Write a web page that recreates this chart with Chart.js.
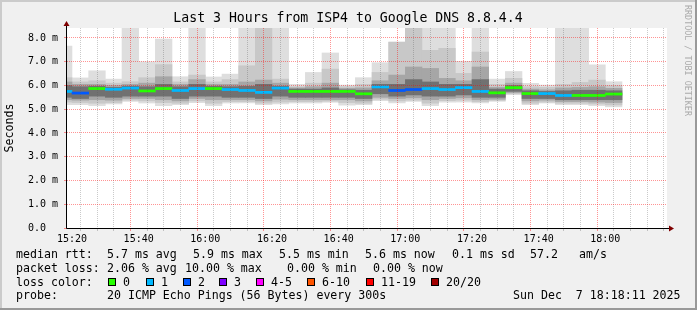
<!DOCTYPE html>
<html>
<head>
<meta charset="utf-8">
<script src="https://cdn.jsdelivr.net/npm/chart.js@4.4.1/dist/chart.umd.min.js"></script>
<style>
  html, body { margin: 0; padding: 0; background: #f0f0f0; }
  #wrap { width: 697px; height: 310px; }
</style>
</head>
<body>
<div id="wrap"><canvas id="smoke" width="697" height="310"></canvas></div>
<script>
(function() {
  'use strict';

  // 5 minute slots (start time), first one is clipped by the left edge
  var SLOTS = ['15:15', '15:20', '15:25', '15:30', '15:35', '15:40', '15:45', '15:50', '15:55',
    '16:00', '16:05', '16:10', '16:15', '16:20', '16:25', '16:30', '16:35', '16:40', '16:45', '16:50', '16:55',
    '17:00', '17:05', '17:10', '17:15', '17:20', '17:25', '17:30', '17:35', '17:40', '17:45', '17:50', '17:55', '18:00'];

  // rtt in ms: smoke bands from outside (light) to inside (dark)
  var MAX_RTT = [7.66, 6.32, 6.62, 6.27, 8.5, 7.00, 7.95, 6.37, 8.5, 6.36, 6.48, 8.5, 8.5, 8.5, 6.05, 6.55, 7.37, 6.02, 6.33, 6.96, 7.84, 8.5, 8.5, 8.5, 7.02, 8.5, 6.27, 6.59, 6.09, 6.02, 8.5, 8.5, 6.87, 6.16];
  var HI2 = [6.33, 6.15, 6.20, 6.10, 6.16, 6.33, 6.88, 6.15, 6.44, 6.15, 6.25, 6.83, 8.5, 6.27, 5.95, 6.10, 6.69, 5.95, 6.05, 6.55, 7.82, 8.5, 7.48, 7.57, 6.51, 7.41, 6.05, 6.30, 5.95, 5.92, 6.05, 6.13, 6.23, 6.00];
  var HI3 = [6.15, 6.05, 6.05, 6.00, 6.05, 6.10, 6.37, 6.05, 6.25, 6.05, 6.05, 6.15, 6.23, 6.10, 5.90, 5.95, 6.10, 5.88, 5.90, 6.20, 6.44, 6.78, 6.72, 6.30, 6.20, 6.78, 5.92, 6.10, 5.85, 5.82, 5.90, 5.92, 5.95, 5.88];
  var HI4 = [6.00, 5.95, 5.97, 5.92, 5.97, 5.95, 6.05, 5.95, 6.05, 5.97, 5.95, 5.97, 6.05, 5.97, 5.85, 5.85, 5.90, 5.82, 5.80, 6.05, 6.05, 6.25, 6.15, 6.05, 6.05, 6.25, 5.85, 6.00, 5.78, 5.75, 5.78, 5.80, 5.80, 5.78];
  var MEDIAN = [5.75, 5.68, 5.87, 5.84, 5.89, 5.77, 5.87, 5.79, 5.87, 5.87, 5.83, 5.79, 5.71, 5.89, 5.75, 5.75, 5.75, 5.75, 5.65, 5.94, 5.79, 5.83, 5.87, 5.83, 5.91, 5.75, 5.69, 5.91, 5.66, 5.66, 5.58, 5.58, 5.58, 5.64];
  var LO4 = [5.50, 5.45, 5.55, 5.50, 5.55, 5.55, 5.55, 5.45, 5.55, 5.55, 5.50, 5.50, 5.45, 5.55, 5.50, 5.50, 5.50, 5.50, 5.45, 5.65, 5.55, 5.60, 5.55, 5.55, 5.60, 5.50, 5.50, 5.75, 5.45, 5.45, 5.40, 5.40, 5.40, 5.40];
  var LO3 = [5.40, 5.38, 5.40, 5.38, 5.45, 5.45, 5.40, 5.35, 5.45, 5.40, 5.40, 5.40, 5.35, 5.42, 5.40, 5.40, 5.40, 5.40, 5.35, 5.50, 5.45, 5.48, 5.40, 5.45, 5.48, 5.40, 5.42, 5.70, 5.35, 5.38, 5.32, 5.32, 5.30, 5.28];
  var LO2 = [5.30, 5.28, 5.25, 5.28, 5.38, 5.35, 5.28, 5.25, 5.35, 5.25, 5.32, 5.32, 5.25, 5.30, 5.32, 5.32, 5.34, 5.28, 5.25, 5.42, 5.35, 5.38, 5.25, 5.36, 5.38, 5.32, 5.37, 5.65, 5.25, 5.30, 5.25, 5.25, 5.22, 5.18];
  var MIN_RTT = [5.19, 5.19, 5.15, 5.22, 5.33, 5.26, 5.15, 5.19, 5.28, 5.15, 5.26, 5.26, 5.19, 5.22, 5.26, 5.26, 5.29, 5.17, 5.19, 5.36, 5.26, 5.33, 5.15, 5.30, 5.30, 5.26, 5.33, 5.61, 5.19, 5.26, 5.19, 5.19, 5.15, 5.10];
  // lost pings out of 20 per slot
  var LOSS = [1, 2, 0, 1, 1, 0, 0, 1, 1, 0, 1, 1, 1, 1, 0, 0, 0, 0, 0, 1, 2, 2, 1, 1, 1, 1, 0, 0, 0, 1, 1, 0, 0, 0];

  var X_TICKS = ['15:20', '15:40', '16:00', '16:20', '16:40', '17:00', '17:20', '17:40', '18:00'];
  var Y_TICKS = ['0.0  ', '1.0 m', '2.0 m', '3.0 m', '4.0 m', '5.0 m', '6.0 m', '7.0 m', '8.0 m'];

  var LOSS_LABELS = ['0', '1', '2', '3', '4-5', '6-10', '11-19', '20/20'];
  var LOSS_COLORS = ['#26ff00', '#00b8ff', '#0059ff', '#7e00ff', '#ff00ff', '#ff5500', '#ff0000', '#a10000'];

  var TITLE = 'Last 3 Hours from ISP4 to Google DNS 8.8.4.4';
  var RTT_ROW = [['median rtt:', 16], ['5.7 ms avg', 107], ['5.9 ms max', 193], ['5.5 ms min', 279], ['5.6 ms now', 365], ['0.1 ms sd', 452], ['57.2', 530], ['am/s', 579]];
  var LOSS_ROW = [['packet loss:', 16], ['2.06 % avg', 107], ['10.00 % max', 185], ['0.00 % min', 287], ['0.00 % now', 373]];
  var PROBE_ROW = [['probe:', 16], ['20 ICMP Echo Pings (56 Bytes) every 300s', 107], ['Sun Dec  7 18:18:11 2025', 513]];

  var MONO = "'DejaVu Sans Mono', monospace";
  var BACK = '#f0f0f0';
  var MGRID = 'rgba(255,0,0,0.42)', GRID = 'rgba(90,90,90,0.32)';
  var ARROW = '#7f0000';

  function toMin(s) { var p = s.split(':'); return (+p[0] - 15) * 60 + (+p[1]); }
  function lossColor(n) {
    var idx = n <= 3 ? n : n <= 5 ? 4 : n <= 10 ? 5 : n < 20 ? 6 : 7;
    return LOSS_COLORS[idx];
  }
  function band(lo, hi) {
    return SLOTS.map(function(s, i) { return { x: toMin(s) + 2.5, y: [lo[i], hi[i]] }; });
  }
  function smoke(label, lo, hi, color, order) {
    return { label: label, data: band(lo, hi), backgroundColor: color, borderWidth: 0, grouped: false,
      barPercentage: 1, categoryPercentage: 1, inflateAmount: 0.3, order: order };
  }

  var medianLine = SLOTS.map(function(s, i) { return { x: toMin(s) + 2.5, y: [MEDIAN[i] - 0.045, MEDIAN[i] + 0.045] }; });
  var xTickMin = X_TICKS.map(toMin);

  var decor = {
    id: 'decor',
    beforeDraw: function(chart) {
      var c = chart.ctx, a = chart.chartArea;
      c.save();
      c.fillStyle = BACK; c.fillRect(0, 0, chart.width, chart.height);
      c.fillStyle = '#cbcbcb'; c.fillRect(0, 0, chart.width, 2); c.fillRect(0, 0, 2, chart.height);
      c.fillStyle = '#999999'; c.fillRect(chart.width - 2, 0, 2, chart.height); c.fillRect(0, chart.height - 2, chart.width, 2);
      c.fillStyle = '#ffffff'; c.fillRect(a.left, a.top, a.right - a.left, a.bottom - a.top);
      c.restore();
    },
    afterDraw: function(chart) {
      var c = chart.ctx, a = chart.chartArea;
      var x0 = Math.round(a.left) - 0.5, y0 = Math.round(a.bottom) + 0.5;
      c.save();
      // axis lines + arrows
      c.strokeStyle = '#000'; c.lineWidth = 1;
      c.beginPath(); c.moveTo(x0, y0); c.lineTo(x0, a.top - 3); c.stroke();
      c.beginPath(); c.moveTo(x0, y0); c.lineTo(a.right + 3, y0); c.stroke();
      c.fillStyle = ARROW;
      c.beginPath(); c.moveTo(x0 - 3, a.top - 2); c.lineTo(x0 + 3, a.top - 2); c.lineTo(x0, a.top - 7); c.closePath(); c.fill();
      c.beginPath(); c.moveTo(a.right + 2, y0 - 3); c.lineTo(a.right + 2, y0 + 3); c.lineTo(a.right + 7, y0); c.closePath(); c.fill();

      c.fillStyle = '#000';
      c.textBaseline = 'middle';
      c.font = '13.2px ' + MONO;
      c.textAlign = 'center';
      c.fillText(TITLE, 348, 19);

      c.save();
      c.translate(10, (a.top + a.bottom) / 2);
      c.rotate(-Math.PI / 2);
      c.font = '11.6px ' + MONO;
      c.fillText('Seconds', 0, 0);
      c.restore();

      c.save();
      c.translate(687, 5);
      c.rotate(Math.PI / 2);
      c.textAlign = 'left';
      c.fillStyle = '#aaaaaa';
      c.font = '8.4px ' + MONO;
      c.fillText('RRDTOOL / TOBI OETIKER', 0, 0);
      c.restore();

      c.textAlign = 'left';
      c.font = '11.6px ' + MONO;
      function row(items, y) { items.forEach(function(t) { c.fillText(t[0], t[1], y); }); }
      row(RTT_ROW, 255);
      row(LOSS_ROW, 268.5);
      row([['loss color:', 16]], 282.5);
      row(PROBE_ROW, 296);

      LOSS_LABELS.forEach(function(l, i) {
        var bx = [108, 146, 183, 219, 256, 307, 366, 431][i];
        c.fillStyle = LOSS_COLORS[i];
        c.fillRect(bx, 278, 8, 8);
        c.strokeStyle = '#000';
        c.strokeRect(bx + 0.5, 278.5, 7, 7);
        c.fillStyle = '#000';
        c.fillText(l, bx + 15, 282.5);
      });
      c.restore();
    }
  };

  Chart.defaults.font.family = MONO;

  new Chart(document.getElementById('smoke'), {
    type: 'bar',
    data: {
      datasets: [
        smoke('range', MIN_RTT, MAX_RTT, '#dedede', 10),
        smoke('band2', LO2, HI2, '#c8c8c8', 9),
        smoke('band3', LO3, HI3, '#a6a6a6', 8),
        smoke('band4', LO4, HI4, '#717171', 7),
        { label: 'median', data: medianLine, backgroundColor: LOSS.map(lossColor), borderWidth: 0, grouped: false,
          barPercentage: 1, categoryPercentage: 1, inflateAmount: 0.3, order: 0 }
      ]
    },
    options: {
      responsive: false,
      animation: false,
      devicePixelRatio: 1,
      events: [],
      layout: { padding: { top: 28, right: 30, left: 0, bottom: 0 } },
      plugins: { legend: { display: false }, tooltip: { enabled: false }, title: { display: false } },
      scales: {
        x: {
          type: 'linear', min: 18.5, max: 198.5, offset: false,
          afterBuildTicks: function(s) { var t = []; for (var v = 20; v <= 195; v += 5) t.push({ value: v }); s.ticks = t; },
          afterFit: function(s) { s.height = 82; },
          ticks: {
            autoSkip: false, maxRotation: 0, padding: 2, color: '#000', font: { size: 10 },
            callback: function(v) { var k = xTickMin.indexOf(v); return k >= 0 ? X_TICKS[k] : ''; }
          },
          grid: {
            z: 1, tickLength: 3,
            color: function(ctx) { return ctx.tick && ctx.tick.value % 20 === 0 ? MGRID : GRID; }
          },
          border: { display: false, dash: [1, 1] }
        },
        y: {
          min: 0, max: 8.42,
          afterBuildTicks: function(s) { var t = []; for (var v = 0; v <= 8; v += 0.5) t.push({ value: v }); s.ticks = t; },
          afterFit: function(s) { s.width = 67; },
          ticks: {
            padding: 6, color: '#000', font: { size: 10 },
            callback: function(v) { return Number.isInteger(v) ? Y_TICKS[v] : ''; }
          },
          grid: {
            z: 1, tickLength: 3,
            color: function(ctx) { return ctx.tick && Number.isInteger(ctx.tick.value) ? MGRID : GRID; }
          },
          border: { display: false, dash: [1, 1] }
        }
      }
    },
    plugins: [decor]
  });
})();
</script>
</body>
</html>
